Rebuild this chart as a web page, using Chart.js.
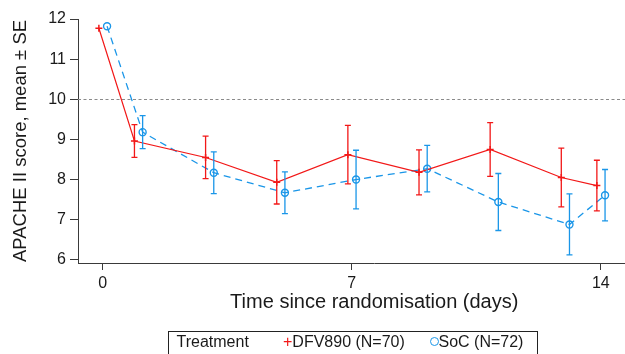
<!DOCTYPE html>
<html>
<head>
<meta charset="utf-8">
<script src="https://cdn.jsdelivr.net/npm/chart.js@4.4.0/dist/chart.umd.min.js"></script>
<style>
  body { margin: 0; background: #fff; font-family: "Liberation Sans", Arial, sans-serif; }
  #wrap { position: relative; width: 625px; height: 354px; overflow: hidden; }
  #chart { position: absolute; left: 0; top: 0; }
  .legend { position: absolute; left: 168px; top: 331px; width: 370px; height: 40px; border: 1px solid #222; box-sizing: border-box; font-size: 16px; color: #1a1a1a; }
  .legend span { position: absolute; top: 1px; line-height: 18px; white-space: nowrap; }
  .legend .ring { top: 4.5px; width: 9px; height: 9px; box-sizing: border-box; border: 1.5px solid #1a96e8; border-radius: 50%; }
</style>
</head>
<body>
<div id="wrap">
  <canvas id="chart" width="676" height="354"></canvas>
  <div class="legend">
    <span style="left:7.5px">Treatment</span>
    <span style="left:114px"><span style="position:static;color:#f21818">+</span>DFV890 (N=70)</span>
    <span class="ring" style="left:260.5px"></span>
    <span style="left:269.5px">SoC (N=72)</span>
  </div>
</div>
<script>
// days since randomisation, and mean / SE per arm
const days = [0, 1, 3, 5, 7, 9, 11, 13, 14];
const dfvMean = [11.77, 8.96, 8.55, 7.93, 8.62, 8.18, 8.75, 8.05, 7.85];
const dfvSE = [0, 0.41, 0.53, 0.54, 0.73, 0.56, 0.67, 0.73, 0.63];
const socMean = [11.82, 9.18, 8.17, 7.67, 8.0, 8.27, 7.44, 6.88, 7.61];
const socSE = [0, 0.41, 0.52, 0.52, 0.73, 0.58, 0.71, 0.76, 0.64];
const xTicks = [0, 7, 14];
const yTicks = [6, 7, 8, 9, 10, 11, 12];
const refValue = 10;

const RED = '#f21818';
const BLUE = '#1a96e8';
const AXIS = '#3a3a3a';
const TEXT = '#1a1a1a';

// small horizontal dodge so the two arms don't overlap
const dfvShift = -0.11;
const socShift = 0.12;

const errorBars = {
  id: 'errorBars',
  afterDatasetsDraw(chart) {
    const { ctx, scales: { x, y } } = chart;
    chart.data.datasets.forEach(ds => {
      ctx.save();
      ctx.strokeStyle = ds.borderColor;
      ctx.lineWidth = 1.3;
      ds.data.forEach((p, i) => {
        const se = ds.se[i];
        if (!se) return;
        const px = x.getPixelForValue(p.x);
        const top = y.getPixelForValue(p.y + se);
        const bot = y.getPixelForValue(p.y - se);
        ctx.beginPath();
        ctx.moveTo(px, top); ctx.lineTo(px, bot);
        ctx.moveTo(px - 3, top); ctx.lineTo(px + 3, top);
        ctx.moveTo(px - 3, bot); ctx.lineTo(px + 3, bot);
        ctx.stroke();
      });
      ctx.restore();
    });
  }
};

const refLine = {
  id: 'refLine',
  beforeDatasetsDraw(chart) {
    const { ctx, chartArea, scales: { y } } = chart;
    const py = Math.round(y.getPixelForValue(refValue)) + 0.5;
    ctx.save();
    ctx.strokeStyle = '#8a8a8a';
    ctx.lineWidth = 1;
    ctx.setLineDash([3, 2.5]);
    ctx.beginPath();
    ctx.moveTo(chartArea.left, py);
    ctx.lineTo(chartArea.right, py);
    ctx.stroke();
    ctx.restore();
  }
};

new Chart(document.getElementById('chart'), {
  type: 'line',
  data: {
    datasets: [
      {
        label: 'DFV890 (N=70)',
        data: days.map((d, i) => ({ x: d + dfvShift, y: dfvMean[i] })),
        se: dfvSE,
        borderColor: RED,
        borderWidth: 1.2,
        pointStyle: 'cross',
        pointRadius: 3.5,
        pointBorderColor: RED,
        pointBorderWidth: 1.5,
        tension: 0
      },
      {
        label: 'SoC (N=72)',
        data: days.map((d, i) => ({ x: d + socShift, y: socMean[i] })),
        se: socSE,
        borderColor: BLUE,
        borderWidth: 1.3,
        borderDash: [7, 5],
        pointStyle: 'circle',
        pointRadius: 3.5,
        pointBackgroundColor: 'rgba(0,0,0,0)',
        pointBorderColor: BLUE,
        pointBorderWidth: 1.4,
        tension: 0
      }
    ]
  },
  options: {
    responsive: false,
    animation: false,
    layout: { padding: { top: 19, bottom: 39.5, left: 0, right: 0 } },
    plugins: { legend: { display: false }, tooltip: { enabled: false } },
    scales: {
      x: {
        type: 'linear',
        min: -0.697,
        max: 15.96,
        afterBuildTicks: s => { s.ticks = xTicks.map(v => ({ value: v })); },
        afterFit: s => { s.height = 51.5; },
        grid: { drawOnChartArea: false, tickLength: 7, color: AXIS },
        border: { color: AXIS, width: 1 },
        ticks: { font: { family: 'Liberation Sans', size: 16 }, color: TEXT, padding: 4, maxRotation: 0 },
        title: { display: true, text: 'Time since randomisation (days)', font: { family: 'Liberation Sans', size: 20 }, color: TEXT, padding: 0 }
      },
      y: {
        min: 5.92,
        max: 12,
        afterBuildTicks: s => { s.ticks = yTicks.map(v => ({ value: v })); },
        afterFit: s => { s.width = 78; },
        grid: { drawOnChartArea: false, tickLength: 8, color: AXIS },
        border: { color: AXIS, width: 1 },
        ticks: { font: { family: 'Liberation Sans', size: 16 }, color: TEXT, padding: 4 },
        title: { display: true, text: 'APACHE II score, mean ± SE', font: { family: 'Liberation Sans', size: 18.5 }, color: TEXT, padding: { top: 9.4, bottom: 0 } }
      }
    }
  },
  plugins: [refLine, errorBars]
});
</script>
</body>
</html>
